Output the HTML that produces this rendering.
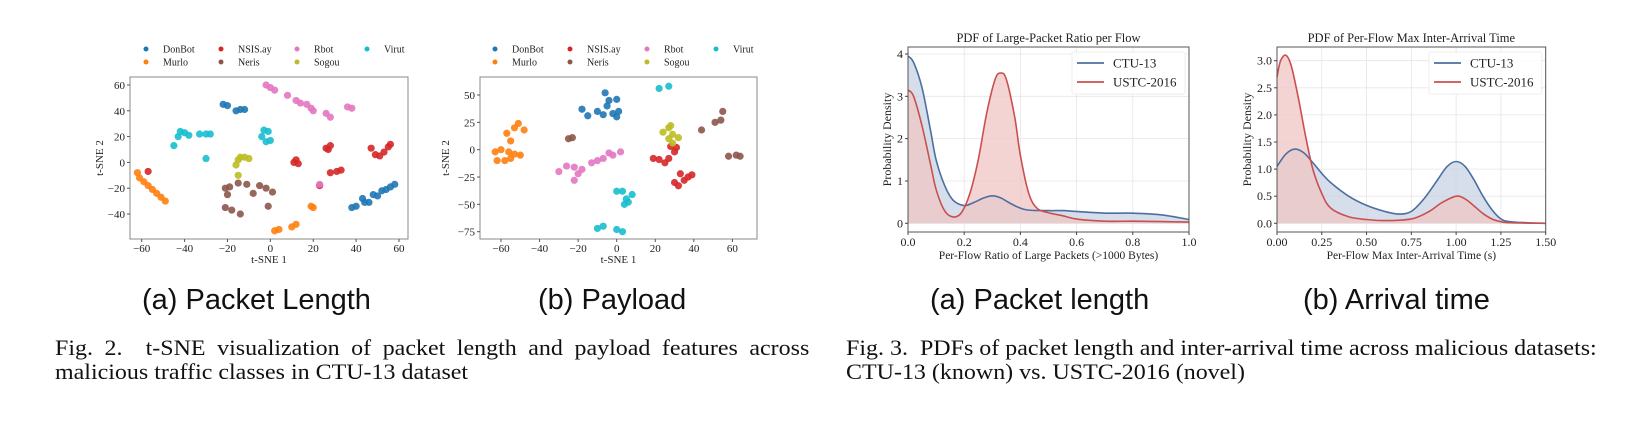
<!DOCTYPE html>
<html><head><meta charset="utf-8"><style>
html,body{margin:0;padding:0;background:#fff;}
body{width:1652px;height:422px;overflow:hidden;position:relative;font-family:"Liberation Serif",serif;}
.cap{position:absolute;font-family:"Liberation Sans",sans-serif;font-size:29px;color:#111;white-space:nowrap;}
.fig{position:absolute;font-family:"Liberation Serif",serif;font-size:22px;color:#111;line-height:24px;white-space:nowrap;transform:scaleX(1.09);transform-origin:0 0;}
.just{text-align:justify;text-align-last:justify;}
svg{position:absolute;left:0;top:0;}
</style></head><body>
<svg id="chart" width="1652" height="422"></svg>
<div class="cap" style="left:142px;top:284px">(a) Packet Length</div>
<div class="cap" style="left:538px;top:284px">(b) Payload</div>
<div class="cap" style="left:930px;top:284px">(a) Packet length</div>
<div class="cap" style="left:1303px;top:284px">(b) Arrival time</div>
<div class="fig" style="left:55px;top:336px;width:692px"><div class="just">Fig. 2.&nbsp; t-SNE visualization of packet length and payload features across</div><div>malicious traffic classes in CTU-13 dataset</div></div>
<div class="fig" style="left:846px;top:336px;width:700px"><div>Fig. 3.&nbsp; PDFs of packet length and inter-arrival time across malicious datasets:</div><div>CTU-13 (known) vs. USTC-2016 (novel)</div></div>
<script>
const classes=["DonBot","Murlo","NSIS.ay","Neris","Rbot","Sogou","Virut"];
const classColors=["#1f77b4","#ff7f0e","#d62728","#8c564b","#e377c2","#bcbd22","#17becf"];
const tsneA=[
[[-22,45],[-20,44],[-14,41],[-12,41],[-16,40],[38,-35],[40,-34],[43,-28],[44,-31],[46,-31],[48,-25],[50,-26],[52,-22],[54,-21],[56,-19],[58,-17]],
[[-62,-8],[-61,-12],[-59,-15],[-57,-18],[-55,-21],[-53,-24],[-51,-27],[-49,-30],[2,-53],[4,-52],[10,-50],[12,-48],[19,-34],[20,-35]],
[[-57,-7],[11,0],[13,-1],[12,2],[23,-18],[26,11],[28,13],[27,10],[28,-8],[31,-7],[33,-6],[47,11],[49,6],[51,5],[53,8],[55,12],[56,14]],
[[-21,-20],[-19,-19],[-20,-25],[-21,-35],[-18,-37],[-14,-40],[-15,-16],[-11,-17],[-8,-24],[-5,-18],[-2,-20],[1,-23],[-1,-34]],
[[-2,60],[0,58],[2,56],[8,52],[12,48],[14,46],[17,45],[19,42],[20,40],[26,38],[28,35],[36,43],[38,42],[23,-17]],
[[-15,2],[-14,4],[-12,4],[-10,3],[-16,-2],[-15,-10]],
[[-45,13],[-43,20],[-42,24],[-40,23],[-38,21],[-33,22],[-30,22],[-28,22],[-30,3],[-4,20],[-3,25],[-1,24],[0,17],[-2,16]]
];
const tsneB=[
[[-18,37],[-15,31],[-10,35],[-7,32],[-6,52],[-4,45],[-2,33],[0,46],[1,35],[0,30],[-5,40]],
[[-63,-2],[-60,0],[-58,-10],[-55,-8],[-53,-4],[-55,8],[-57,15],[-53,20],[-51,24],[-48,18],[-62,-10],[-56,-2],[-50,-5]],
[[19,-8],[22,-9],[25,-12],[27,-8],[28,3],[31,2],[30,-2],[33,-22],[35,-28],[37,-25],[39,-23],[32,-33],[30,-30]],
[[-25,10],[-23,11],[44,18],[51,25],[54,27],[55,35],[58,-6],[62,-5],[64,-6]],
[[-30,-20],[-26,-15],[-22,-16],[-20,-22],[-22,-28],[-18,-18],[-13,-12],[-10,-10],[-7,-8],[-4,-3],[-2,-5],[2,-2]],
[[24,16],[27,20],[29,14],[32,11],[27,10],[29,6],[28,22]],
[[-10,-72],[-7,-70],[0,-73],[3,-75],[0,-38],[3,-38],[5,-45],[8,-41],[4,-50],[6,-48],[22,56],[27,58]]
];
const tsneAxTicks=[-60,-40,-20,0,20,40,60];
const tsneAyTicks=[-40,-20,0,20,40,60];
const tsneBxTicks=[-60,-40,-20,0,20,40,60];
const tsneByTicks=[-75,-50,-25,0,25,50];
const pdfCX=[0,0.02,0.05,0.08,0.1,0.13,0.16,0.2,0.23,0.27,0.3,0.33,0.37,0.42,0.5,0.55,0.6,0.7,0.8,0.9,1.0];
const pdfCctu=[3.95,3.8,3.2,2.2,1.5,0.9,0.55,0.42,0.48,0.6,0.65,0.6,0.45,0.32,0.3,0.3,0.28,0.24,0.24,0.2,0.09];
const pdfCXu=[0,0.02,0.05,0.08,0.1,0.13,0.16,0.19,0.22,0.25,0.28,0.31,0.33,0.35,0.38,0.4,0.43,0.46,0.5,0.55,0.6,0.7,0.8,0.9,1.0];
const pdfCustc=[3.15,3.0,2.3,1.4,0.8,0.3,0.15,0.25,0.7,1.5,2.6,3.4,3.55,3.4,2.5,1.6,0.7,0.35,0.25,0.18,0.1,0.05,0.05,0.04,0.03];
const pdfDX=[0,0.05,0.1,0.15,0.2,0.25,0.3,0.4,0.5,0.6,0.68,0.75,0.82,0.9,0.95,1.0,1.05,1.1,1.15,1.2,1.25,1.3,1.4,1.5];
const pdfDctu=[1.05,1.28,1.37,1.3,1.12,0.92,0.75,0.5,0.33,0.22,0.17,0.22,0.45,0.82,1.05,1.14,1.05,0.8,0.5,0.25,0.08,0.03,0.01,0];
const pdfDXu=[0,0.02,0.05,0.08,0.12,0.16,0.2,0.25,0.3,0.4,0.5,0.6,0.75,0.85,0.92,1.0,1.05,1.1,1.15,1.2,1.25,1.3,1.5];
const pdfDustc=[2.7,3.0,3.1,2.9,2.3,1.6,1.0,0.55,0.28,0.12,0.07,0.05,0.08,0.22,0.38,0.5,0.45,0.32,0.18,0.08,0.03,0.01,0];
const cXTicks=[0,0.2,0.4,0.6,0.8,1.0];
const cYTicks=[0,1,2,3,4];
const dXTicks=[0,0.25,0.5,0.75,1.0,1.25,1.5];
const dYTicks=[0,0.5,1.0,1.5,2.0,2.5,3.0];

const NS="http://www.w3.org/2000/svg";
const svg=document.getElementById('chart');
function mk(tag,attrs,parent){const e=document.createElementNS(NS,tag);for(const k in attrs)e.setAttribute(k,attrs[k]);(parent||svg).appendChild(e);return e;}
function txt(s,attrs,parent){const e=mk('text',attrs,parent);e.textContent=s;return e;}
function lin(d0,d1,r0,r1){return v=>r0+(v-d0)/(d1-d0)*(r1-r0);}
function fmt(v,dec){return v<0?'\u2212'+Math.abs(v).toFixed(dec):v.toFixed(dec);}

function tsne(opt,data,xt,yt,nm){
  const g=mk('g',{});
  
  
  const X=lin(opt.x0v,opt.x1v,opt.x0p,opt.x1p),Y=lin(opt.y0v,opt.y1v,opt.y0p,opt.y1p);
  const L=opt.L,R=opt.R,T=77,B=239;
  data.forEach((pts,ci)=>{pts.forEach(p=>{
    const c=mk('circle',{cx:X(p[0]),cy:Y(p[1]),r:3.6,fill:classColors[ci],'fill-opacity':0.9},g);
    
    
  });});
  const fr=mk('rect',{x:L,y:T,width:R-L,height:B-T,fill:'none',stroke:'#888','stroke-width':1},g);
  
  
  xt.forEach(v=>{mk('line',{x1:X(v),x2:X(v),y1:B,y2:B+3,stroke:'#555'},g);
    const t=txt(fmt(v,0),{x:X(v),y:B+13,'text-anchor':'middle','font-size':11,fill:'#222'},g);
    
    });
  yt.forEach(v=>{mk('line',{x1:L-3,x2:L,y1:Y(v),y2:Y(v),stroke:'#555'},g);
    const t=txt(fmt(v,0),{x:L-5,y:Y(v)+4,'text-anchor':'end','font-size':11,fill:'#222'},g);
    
    });
  const xl=txt('t-SNE 1',{x:(L+R)/2,y:B+24,'text-anchor':'middle','font-size':11,fill:'#222'},g);
  
  
  const yl=txt('t-SNE 2',{x:0,y:0,'text-anchor':'middle','font-size':11,fill:'#222',transform:`translate(${opt.ylx},${(T+B)/2}) rotate(-90)`},g);
  
  
  const order=[0,2,4,6,1,3,5];
  const lg=mk('g',{},g);
  
  
  order.forEach((ci,k)=>{const col=k<4?k:k-4,row=k<4?0:1;
    const mx=opt.lx[col],my=row?62:49;
    const e=mk('g',{},lg);
    
    
    mk('circle',{cx:mx,cy:my,r:2.5,fill:classColors[ci]},e);
    txt(classes[ci],{x:mx+17,y:my+3.5,'font-size':10,fill:'#222'},e);});
}
tsne({x0v:-60,x1v:60,x0p:141.7,x1p:399,y0v:60,y1v:-40,y0p:85,y1p:214,L:130,R:408,ylx:103,lx:[146,221,297,367]},tsneA,tsneAxTicks,tsneAyTicks,'tsne-packet-length');
tsne({x0v:-60,x1v:0,x0p:501,x1p:616.7,y0v:50,y1v:-75,y0p:95,y1p:231.7,L:480,R:757,ylx:449,lx:[495,570,647,716]},tsneB,tsneBxTicks,tsneByTicks,'tsne-payload');

function smooth(pts){let d='M'+pts[0][0]+','+pts[0][1];
  for(let i=0;i<pts.length-1;i++){const p0=pts[Math.max(0,i-1)],p1=pts[i],p2=pts[i+1],p3=pts[Math.min(pts.length-1,i+2)];
    const c1=[p1[0]+(p2[0]-p0[0])/6,p1[1]+(p2[1]-p0[1])/6],c2=[p2[0]-(p3[0]-p1[0])/6,p2[1]-(p3[1]-p1[1])/6];
    d+=` C${c1[0]},${c1[1]} ${c2[0]},${c2[1]} ${p2[0]},${p2[1]}`;}
  return d;}

function pdf(opt,nm){
  const g=mk('g',{});
  
  
  const L=opt.L,R=opt.R,T=47,B=232;
  const X=lin(opt.xd[0],opt.xd[1],L,R),Y=lin(0,opt.yref,opt.y0p,opt.yrp);
  opt.xt.forEach(v=>mk('line',{x1:X(v),x2:X(v),y1:T,y2:B,stroke:'#e6e6e6','stroke-width':0.8},g));
  opt.yt.forEach(v=>mk('line',{x1:L,x2:R,y1:Y(v),y2:Y(v),stroke:'#e6e6e6','stroke-width':0.8},g));
  const series=[[opt.xc,opt.yc,'#4c6fa0','#c7d3e3','ctu13'],[opt.xu,opt.yu,'#c9504f','#efc6c4','ustc2016']];
  series.forEach(s=>{const pts=s[0].map((x,i)=>[X(x),Y(s[1][i])]);
    const d=smooth(pts);
    const a=mk('path',{d:d+` L${pts[pts.length-1][0]},${Y(0)} L${pts[0][0]},${Y(0)} Z`,fill:s[3],'fill-opacity':0.75},g);
    
    });
  series.forEach(s=>{const pts=s[0].map((x,i)=>[X(x),Y(s[1][i])]);
    const l=mk('path',{d:smooth(pts),fill:'none',stroke:s[2],'stroke-width':1.6},g);
    
    });
  const fr=mk('rect',{x:L,y:T,width:R-L,height:B-T,fill:'none',stroke:'#555','stroke-width':1},g);
  
  
  opt.xt.forEach(v=>{mk('line',{x1:X(v),x2:X(v),y1:B,y2:B+3,stroke:'#444'},g);
    const t=txt(v.toFixed(opt.xdec),{x:X(v),y:B+14,'text-anchor':'middle','font-size':12,fill:'#222'},g);
    
    });
  opt.yt.forEach(v=>{mk('line',{x1:L-3,x2:L,y1:Y(v),y2:Y(v),stroke:'#444'},g);
    const t=txt(v.toFixed(opt.ydec),{x:L-5,y:Y(v)+4,'text-anchor':'end','font-size':12,fill:'#222'},g);
    
    });
  const ti=txt(opt.title,{x:(L+R)/2,y:42,'text-anchor':'middle','font-size':12.5,fill:'#222'},g);
  
  
  const xl=txt(opt.xlab,{x:(L+R)/2,y:B+27,'text-anchor':'middle','font-size':11.5,fill:'#222'},g);
  
  
  const yl=txt('Probability Density',{x:0,y:0,'text-anchor':'middle','font-size':12,fill:'#222',transform:`translate(${L-opt.yloff},${(T+B)/2}) rotate(-90)`},g);
  
  
  const lg=mk('g',{},g);
  
  
  mk('rect',{x:opt.lgx,y:52,width:R-4-opt.lgx,height:42,fill:'#fff','fill-opacity':0.85,stroke:'#eee',rx:2},lg);
  [['CTU-13','#4c6fa0',63],['USTC-2016','#c9504f',82]].forEach(e=>{
    const eg=mk('g',{},lg);
    
    
    mk('line',{x1:opt.lgx+5,x2:opt.lgx+32,y1:e[2],y2:e[2],stroke:e[1],'stroke-width':1.8},eg);
    txt(e[0],{x:opt.lgx+41,y:e[2]+4.5,'font-size':13,fill:'#222'},eg);});
}
pdf({L:908,R:1189,xd:[0,1],yref:4,y0p:223.3,yrp:54,xt:cXTicks,yt:cYTicks,xdec:1,ydec:0,xc:pdfCX,yc:pdfCctu,xu:pdfCXu,yu:pdfCustc,yloff:17,
  title:'PDF of Large-Packet Ratio per Flow',xlab:'Per-Flow Ratio of Large Packets (>1000 Bytes)',lgx:1072},'pdf-packet-length');
pdf({L:1277,R:1545.7,xd:[0,1.5],yref:3,y0p:223.3,yrp:60.7,xt:dXTicks,yt:dYTicks,xdec:2,ydec:1,xc:pdfDX,yc:pdfDctu,xu:pdfDXu,yu:pdfDustc,yloff:26,
  title:'PDF of Per-Flow Max Inter-Arrival Time',xlab:'Per-Flow Max Inter-Arrival Time (s)',lgx:1429},'pdf-arrival-time');
</script>
</body></html>
